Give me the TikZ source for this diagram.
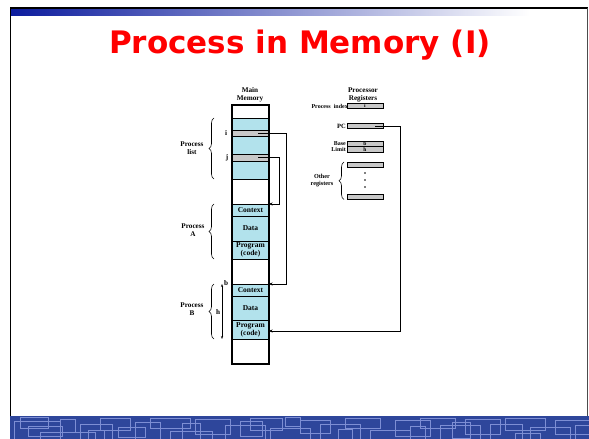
\documentclass[tikz,border=0pt]{standalone}
\usepackage{fontspec}
\setmainfont{Liberation Serif}
\newfontfamily\titlefont{DejaVu Sans}
\usetikzlibrary{arrows.meta,decorations.pathreplacing,calc}
\definecolor{memcyan}{RGB}{178,226,236}
\definecolor{slotgray}{RGB}{200,200,200}
\definecolor{bandblue}{RGB}{46,70,155}
\definecolor{bandline}{RGB}{125,142,212}
\definecolor{bardark}{RGB}{12,28,158}
\begin{document}
\begin{tikzpicture}[x=1pt,y=-1pt,
  cell/.style={draw=black,line width=0.7pt,fill=memcyan,minimum width=37pt,inner sep=0pt,outer sep=0pt,anchor=north west,align=center,font=\bfseries\fontsize{7.5}{8}\selectfont},
  blank/.style={cell,fill=white},
  slot/.style={cell,fill=slotgray},
  lab/.style={inner sep=0pt,align=center,font=\bfseries\fontsize{7.2}{8.5}\selectfont},
  reg/.style={draw=black,line width=0.7pt,fill=slotgray,minimum width=36pt,minimum height=5.5pt,inner sep=0pt,outer sep=0pt,font=\bfseries\fontsize{5.5}{5.5}\selectfont},
  brc/.style={decorate,decoration={brace,amplitude=5pt},line width=0.6pt},
  ptr/.style={line width=0.8pt,-{Stealth[length=3.5pt,width=3pt]}}
]
\useasboundingbox (0,0) rectangle (589,439);
% slide frame
\shade[left color=bardark,right color=white] (11,9) rectangle (530,15.5);
\draw[line width=1.6pt] (10,8) -- (588,8);
\draw[line width=1.2pt] (10.6,7.5) -- (10.6,416);
\draw[line width=0.8pt,black!70] (587.5,7.5) -- (587.5,416);
% bottom band
\fill[bandblue] (10,416) rectangle (589,439);
\begin{scope}
\clip (10,416) rectangle (589,439);
\foreach \a/\b/\c/\d in {14/421/60/445,28/426/62/436,60/419/75/432,80/424/112/445,100/418/130/430,
  135/422/160/445,150/418/190/428,170/431/212/445,195/419/230/434,225/425/265/445,250/418/282/430,
  270/428/310/445,300/420/330/433,320/424/360/445,345/418/380/428,370/430/410/445,395/420/430/436,
  420/418/455/428,440/425/480/445,465/419/500/434,490/424/522/445,505/418/545/430,530/427/570/445,
  555/420/592/434,40/432/95/445,118/427/145/437,240/421/262/436,338/429/352/445,452/422/470/438,575/425/592/445,
  20/417/48/428,88/430/104/445,182/423/200/445,285/417/300/426,410/426/425/445,515/433/540/445}
  \draw[bandline,line width=1pt] (\a,\b) rectangle (\c,\d);
\end{scope}
% title
\node[font=\titlefont\bfseries\fontsize{31}{31}\selectfont,text=red,anchor=base,inner sep=0pt] (title) at (300,53) {Process in Memory (I)};
% main memory column
\node[blank,minimum height=13pt] (memtop) at (232,105) {};
\node[cell,minimum height=61pt] (pl) at (232,118) {};
\node[slot,minimum height=6pt] (sloti) at (232,130) {};
\node[slot,minimum height=7pt] (slotj) at (232,154) {};
\node[blank,minimum height=25pt] (gapa) at (232,179) {};
\node[cell,minimum height=12pt] (ctxA) at (232,204) {Context};
\node[cell,minimum height=25pt] (dataA) at (232,216) {Data};
\node[cell,minimum height=18pt] (progA) at (232,241) {Program\\(code)};
\node[blank,minimum height=25pt] (gapb) at (232,259) {};
\node[cell,minimum height=12pt] (ctxB) at (232,284) {Context};
\node[cell,minimum height=24pt] (dataB) at (232,296) {Data};
\node[cell,minimum height=19pt] (progB) at (232,320) {Program\\(code)};
\node[blank,minimum height=25pt] (memend) at (232,339) {};
\draw[line width=1.2pt] (memtop.north west) rectangle (memend.south east);
\node[lab] (mainlab) at (250,95) {Main\\Memory};
\node[lab] (ilab) at (226,133) {i};
\node[lab] (jlab) at (227,158) {j};
% braces and labels
\draw[brc] ($(pl.south west)+(-18,0)$) -- ($(pl.north west)+(-18,0)$);
\node[lab] (pllab) at (192,148) {Process\\list};
\draw[brc] ($(progA.south west)+(-18,0)$) -- ($(ctxA.north west)+(-18,0)$);
\node[lab] (palab) at (193,230) {Process\\A};
\draw[brc] ($(progB.south west)+(-18,0)$) -- ($(ctxB.north west)+(-18,0)$);
\node[lab] (pblab) at (192,309) {Process\\B};
\draw[line width=0.6pt,{Stealth[length=3pt,width=2.2pt]}-{Stealth[length=3pt,width=2.2pt]}] ($(ctxB.north west)+(-10,0)$) -- ($(progB.south west)+(-10,0)$);
\node[lab] (blab) at (226,283) {b};
\node[lab] (hlab) at (218,312) {h};
% processor registers
\node[lab] (reglab) at (363,95) {Processor\\Registers};
\node[reg,anchor=north west] (pidx) at (347,103) {i};
\node[lab,anchor=east,font=\bfseries\fontsize{6}{6}\selectfont] (pidxlab) at (348,106) {Process\ \ index};
\node[reg,anchor=north west] (pc) at (347,123) {};
\node[lab,anchor=east,font=\bfseries\fontsize{6.5}{6.5}\selectfont] (pclab) at (346,126) {PC};
\node[reg,anchor=north west] (base) at (347,141) {b};
\node[reg,anchor=north west] (limit) at (347,146.5) {h};
\node[lab,anchor=east,font=\bfseries\fontsize{6}{6}\selectfont] (baselab) at (346,144) {Base};
\node[lab,anchor=east,font=\bfseries\fontsize{6}{6}\selectfont] (limitlab) at (346,149.5) {Limit};
\node[reg,anchor=north west] (oreg1) at (347,162) {};
\node[reg,anchor=north west] (oreg2) at (347,194) {};
\fill (365,173) circle (0.8pt) (365,180) circle (0.8pt) (365,187) circle (0.8pt);
\draw[brc] (344,199.5) -- (344,162);
\node[lab,font=\bfseries\fontsize{6.2}{7.5}\selectfont] (otherlab) at (322,180.5) {Other\\registers};
% pointers
\coordinate (istart) at (258,133);
\coordinate (jstart) at (258,157.5);
\coordinate (pcstart) at (375,126);
\draw[ptr] (istart) -- (286,133) |- (ctxB.north east);
\draw[ptr] (jstart) -- (279,157.5) |- (ctxA.north east);
\draw[ptr] (pcstart) -- (400,126) |- ($(progB.east)+(0,1.5)$);
\end{tikzpicture}
\end{document}
